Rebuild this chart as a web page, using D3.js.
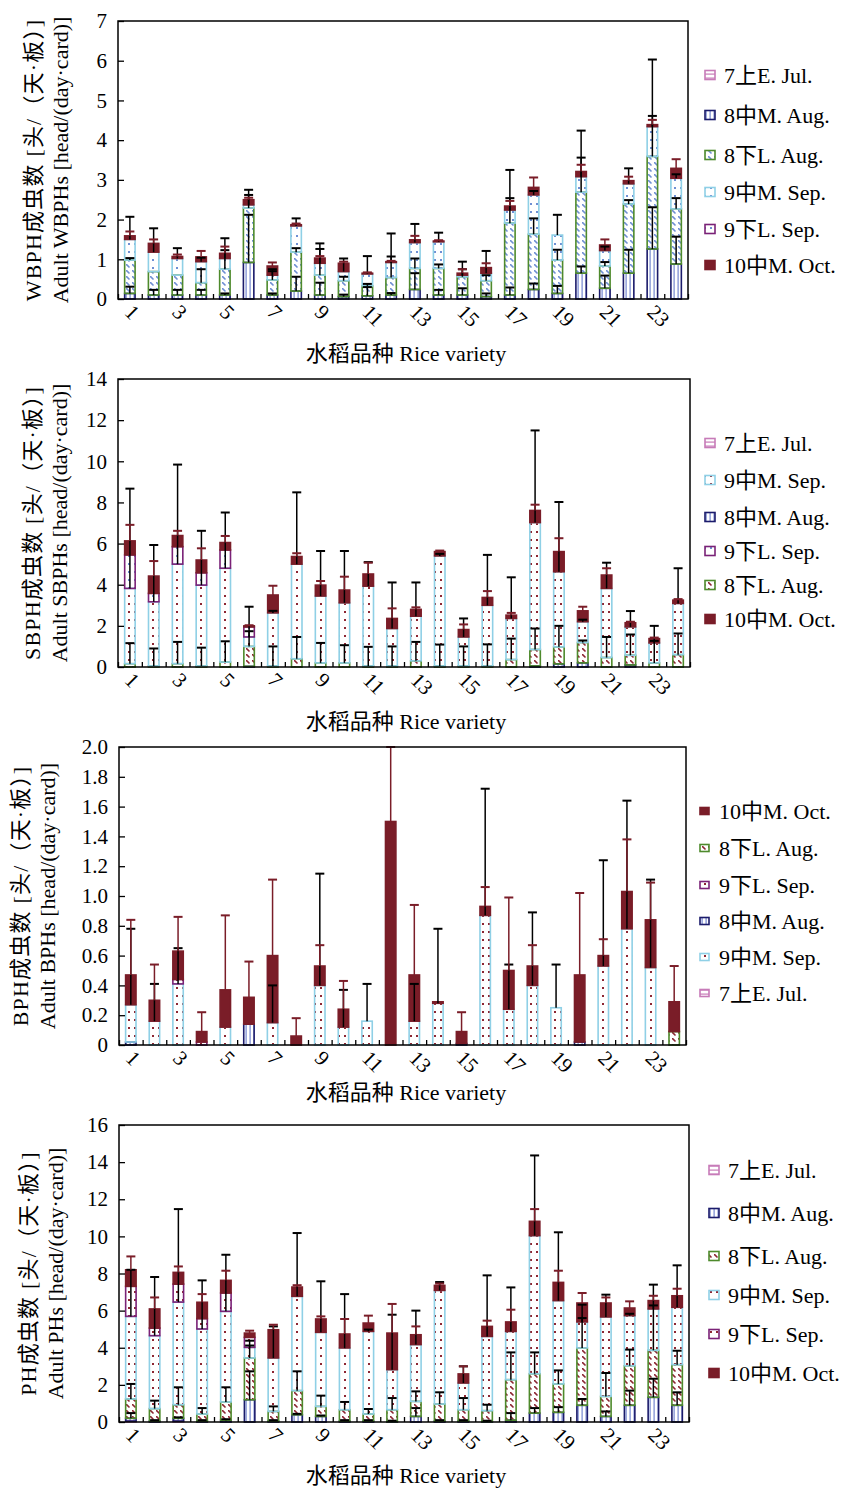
<!DOCTYPE html>
<html>
<head>
<meta charset="utf-8">
<script src="https://cdn.jsdelivr.net/npm/d3@7"></script>
<style>
  body { margin: 0; background: #fff; }
  text { font-family: "Liberation Serif", "Noto Sans CJK SC", serif; fill: #000; }
</style>
</head>
<body>
<svg id="chart" width="853" height="1490"></svg>
<script>
// ---- data -------------------------------------------------------------
const varieties = d3.range(1, 25);
const tickLabels = [1, 3, 5, 7, 9, 11, 13, 15, 17, 19, 21, 23];
const keys = ["JulE", "AugM", "AugL", "SepM", "SepL", "OctM"];
const seriesNames = {
  JulE: "7上E. Jul.", AugM: "8中M. Aug.", AugL: "8下L. Aug.",
  SepM: "9中M. Sep.", SepL: "9下L. Sep.", OctM: "10中M. Oct."
};

// WBPH
const wbphJulE = d3.range(24).map(() => 0);
const wbphAugM = [0.14,0.10,0.10,0.10,0.10,0.92,0.10,0.20,0.10,0.06,0.08,0.10,0.24,0.10,0.10,0.06,0.10,0.24,0.14,0.65,0.27,0.65,1.26,0.88];
const wbphAugL = [0.84,0.59,0.50,0.31,0.65,1.37,0.38,0.98,0.50,0.40,0.25,0.44,0.53,0.67,0.46,0.40,1.81,1.39,0.84,2.04,0.56,1.74,2.33,1.39];
const wbphSepM = [0.52,0.49,0.42,0.53,0.27,0.08,0.12,0.66,0.30,0.23,0.30,0.38,0.65,0.67,0.04,0.19,0.33,0.99,0.63,0.39,0.39,0.51,0.75,0.77];
const wbphSepL = d3.range(24).map(() => 0);
const wbphOctM = [0.09,0.22,0.05,0.12,0.13,0.13,0.23,0.03,0.13,0.21,0.02,0.02,0.07,0.02,0.05,0.14,0.10,0.19,0.00,0.13,0.14,0.08,0.05,0.25];
const wbphAugMErr = [0.17,0.13,0.13,0.13,0.04,1.20,0.04,0.36,0.31,0.05,0.22,0.05,0.41,0.13,0.17,0.08,0.19,0.15,0.19,0.17,0.32,0.59,1.05,0.69];
const wbphAugLErr = [0.05,0.00,0.00,0.34,0.48,0.33,0.27,0.10,0.66,0.10,0.05,0.53,0.25,0.10,0.19,0.14,0.63,0.40,0.26,0.87,0.10,0.10,1.02,0.27];
const wbphSepMErr = [0.57,0.60,0.26,0.10,0.51,0.38,0.10,0.19,0.50,0.33,0.45,0.73,0.47,0.23,0.34,0.56,1.01,0.10,0.51,1.16,0.10,0.39,1.69,0.10];
const wbphOctMErr = [0.11,0.10,0.05,0.15,0.17,0.05,0.09,0.03,0.05,0.04,0.02,0.02,0.10,0.02,0.10,0.11,0.13,0.25,0.00,0.17,0.14,0.10,0.12,0.23];

// SBPH
const sbphJulE = d3.range(24).map(() => 0);
const sbphAugM = [0,0,0,0,0,0.03,0,0,0,0,0,0,0,0,0,0,0,0.05,0.15,0.20,0,0.10,0,0];
const sbphAugL = [0.16,0.05,0.16,0.05,0.24,0.97,0.05,0.40,0.20,0.20,0.05,0.05,0.30,0.05,0.05,0.05,0.36,0.80,0.83,0.99,0.46,0.47,0.20,0.60];
const sbphSepM = [3.66,3.12,4.84,3.93,4.56,0.46,2.58,4.60,3.25,2.92,3.88,1.82,2.17,5.35,1.41,2.95,2.00,6.17,3.65,1.01,3.36,1.38,0.97,2.49];
const sbphSepL = [1.63,0.41,0.85,0.60,0.89,0.49,0,0,0,0,0,0,0,0,0,0,0,0,0,0,0,0,0,0];
const sbphOctM = [0.68,0.84,0.54,0.62,0.36,0.05,0.87,0.37,0.53,0.62,0.59,0.49,0.33,0.21,0.36,0.38,0.16,0.59,0.98,0.53,0.65,0.20,0.21,0.16];
const sbphAugMErr = d3.range(24).map(() => 0);
const sbphAugLErr = [1.00,0.85,1.06,0.89,1.01,0.74,0.95,1.06,0.97,0.86,0.93,0.95,0.92,1.04,0.95,1.05,1.02,1.02,1.02,0.10,1.00,1.01,1.80,1.03];
const sbphSepMErr = [4.85,2.76,4.84,2.64,2.71,1.47,0.10,3.49,2.19,2.52,1.17,2.24,1.64,0.10,0.90,2.45,2.00,4.48,3.39,0.10,1.25,0.77,0.10,1.71];
const sbphOctMErr = [0.78,0.73,0.23,0.57,0.32,0.03,0.45,0.16,0.20,0.65,0.55,0.49,0.10,0.05,0.25,0.31,0.11,0.28,0.65,0.20,0.33,0.05,0.05,0.05];

// BPH
const bphJulE = d3.range(24).map(() => 0);
const bphAugM = [0.02,0,0,0,0,0.14,0,0,0,0,0,0,0,0,0.01,0,0,0,0,0.02,0,0,0,0];
const bphAugL = [0,0,0,0,0,0,0,0,0,0,0,0,0,0,0,0,0,0,0,0,0,0,0,0.09];
const bphSepM = [0.25,0.16,0.41,0,0.12,0,0.15,0,0.40,0.12,0.16,0,0.16,0.28,0,0.87,0.24,0.40,0.25,0,0.53,0.78,0.52,0];
const bphSepL = [0,0,0.03,0.02,0,0,0,0,0,0,0,0,0,0,0,0,0,0,0,0,0,0,0,0];
const bphOctM = [0.20,0.14,0.19,0.07,0.25,0.18,0.45,0.06,0.13,0.12,0,1.50,0.31,0.01,0.08,0.06,0.26,0.13,0,0.45,0.07,0.25,0.32,0.20];
const bphAugMErr = d3.range(24).map(() => 0);
const bphAugLErr = d3.range(24).map(() => 0);
const bphSepMErr = [0.51,0.25,0.24,0,0,0,0.25,0,0.75,0.25,0.25,0,0.25,0.50,0,0.85,0.30,0.49,0.29,0,0.71,0.86,0.59,0];
const bphOctMErr = [0.37,0.24,0.23,0.13,0.50,0.24,0.51,0.12,0.14,0.19,0,0.52,0.47,0,0.13,0.13,0.49,0.14,0,0.55,0.11,0.35,0.25,0.24];

// PH
const phJulE = [0.05,0,0.05,0,0,0,0,0,0,0,0,0,0,0,0,0,0,0,0,0,0,0,0,0];
const phAugM = [0.15,0.05,0.15,0.05,0.10,1.20,0.05,0.39,0.30,0.05,0.05,0.02,0.30,0.05,0.05,0.02,0.10,0.48,0.52,0.90,0.30,0.90,1.33,0.90];
const phAugL = [1.04,0.67,0.73,0.38,0.98,2.25,0.52,1.30,0.54,0.61,0.38,0.64,0.81,0.92,0.61,0.59,2.18,2.12,1.53,3.09,1.08,2.13,2.53,2.19];
const phSepM = [4.45,3.93,5.53,4.58,4.88,0.57,2.88,5.08,3.99,3.33,4.45,2.16,3.06,6.12,1.44,4.00,2.60,7.44,4.49,1.40,4.28,2.70,2.23,3.09];
const phSepL = [1.62,0.41,0.97,0.56,0.99,0.54,0,0,0,0,0,0,0,0,0,0,0,0,0,0,0,0,0,0];
const phOctM = [0.89,1.03,0.63,0.88,0.68,0.23,1.52,0.50,0.72,0.75,0.45,1.97,0.53,0.27,0.49,0.54,0.51,0.77,0.98,1.02,0.75,0.41,0.45,0.62];
const phAugMErr = [0.28,0.05,0.05,0.05,0.05,1.53,0.05,0.05,0.05,0.05,0.05,0.05,0.45,0.05,0.05,0.05,0.38,0.27,0.28,0.34,0.27,0.79,1.00,0.70];
const phAugLErr = [0.81,0.43,0.94,0.32,0.79,0.93,0.27,1.04,0.58,0.42,0.27,0.63,0.54,0.63,0.63,0.32,1.47,1.15,0.73,1.61,1.26,0.87,2.42,0.75];
const phSepMErr = [2.51,3.16,5.01,2.62,3.05,0.10,1.70,3.41,2.75,2.90,0.10,2.96,1.83,0.45,0.90,3.29,2.37,4.32,3.68,0.93,1.20,0.10,1.31,2.26];
const phOctMErr = [0.72,0.62,0.32,0.44,0.52,0.13,0.27,0.10,0.14,0.81,0.40,1.57,0.45,0.10,0.41,0.31,0.66,0.66,0.63,0.54,0.30,0.36,0.26,0.38];

// ---- drawing ----------------------------------------------------------
const svg = d3.select("#chart");
const defs = svg.append("defs");
const darkRed = "#7a1d28";

// patterns, one set per dot colour
function addPatterns(prefix, c) {
  const dots = defs.append("pattern").attr("id", prefix + "dots")
    .attr("patternUnits", "userSpaceOnUse").attr("width", 6).attr("height", 8);
  dots.append("rect").attr("x", 2).attr("y", 3).attr("width", 2).attr("height", 2).attr("fill", c);

  const diag = defs.append("pattern").attr("id", prefix + "diag")
    .attr("patternUnits", "userSpaceOnUse").attr("width", 6).attr("height", 6);
  diag.append("path").attr("d", "M0,0 L3.5,3.5").attr("stroke", c).attr("stroke-width", 1.6);
}
addPatterns("blue", "#6f8fd3");
addPatterns("red", "#8c2632");

const vl = defs.append("pattern").attr("id", "vlines")
  .attr("patternUnits", "userSpaceOnUse").attr("width", 4).attr("height", 4);
vl.append("rect").attr("x", 1.5).attr("y", 0).attr("width", 1.2).attr("height", 4).attr("fill", "#7386cf");

const hl = defs.append("pattern").attr("id", "hlines")
  .attr("patternUnits", "userSpaceOnUse").attr("width", 4).attr("height", 4);
hl.append("rect").attr("x", 0).attr("y", 1.5).attr("width", 4).attr("height", 1.2).attr("fill", "#c77bb8");

function styles(scheme) {
  return {
    JulE: { stroke: "#c77bb8", fill: "url(#hlines)" },
    AugM: { stroke: "#1b1b6b", fill: "url(#vlines)" },
    AugL: { stroke: "#4e8a2c", fill: `url(#${scheme.augL}diag)` },
    SepM: { stroke: "#8fd0e6", fill: `url(#${scheme.sepM}dots)` },
    SepL: { stroke: "#7a2277", fill: `url(#${scheme.sepL}dots)` },
    OctM: { stroke: darkRed, fill: darkRed }
  };
}

function drawPanel(cfg) {
  const rows = varieties.map((v, i) => {
    const r = { variety: v };
    keys.forEach(k => r[k] = cfg.values[k][i]);
    return r;
  });
  const stacked = d3.stack().keys(keys)(rows);
  const st = styles(cfg.scheme);

  const x = d3.scaleBand().domain(varieties).range([cfg.left, cfg.right]);
  const xEdge = d3.scaleLinear().domain([0, 24]).range([cfg.left, cfg.right]);
  const y = d3.scaleLinear().domain([0, cfg.ymax]).range([cfg.bottom, cfg.top]);
  const bw = x.bandwidth() * 0.44;

  const g = svg.append("g");

  // bars
  stacked.forEach(layer => {
    g.append("g").selectAll("rect")
      .data(layer.filter(d => d[1] - d[0] > 0))
      .join("rect")
      .attr("x", d => x(d.data.variety) + (x.bandwidth() - bw) / 2)
      .attr("y", d => y(d[1]))
      .attr("width", bw)
      .attr("height", d => y(d[0]) - y(d[1]))
      .attr("fill", st[layer.key].fill)
      .attr("stroke", st[layer.key].stroke)
      .attr("stroke-width", 1.6);
  });

  // error bars (plus direction), from the top of each segment
  ["AugM", "AugL", "SepM", "OctM"].forEach(k => {
    const layer = stacked.find(s => s.key === k);
    const errs = cfg.errors[k];
    const col = k === "OctM" ? darkRed : "#000";
    const eg = g.append("g").attr("stroke", col).attr("stroke-width", 1.5);
    layer.forEach((d, i) => {
      if (!(errs[i] > 0)) return;
      const cx = x(d.data.variety) + x.bandwidth() / 2;
      const y0 = y(d[1]), y1 = y(Math.min(d[1] + errs[i], cfg.ymax));
      eg.append("line").attr("x1", cx).attr("x2", cx).attr("y1", y0).attr("y2", y1);
      eg.append("line").attr("x1", cx - 4.5).attr("x2", cx + 4.5).attr("y1", y1).attr("y2", y1)
        .attr("stroke-width", 2);
    });
  });

  // frame
  g.append("rect")
    .attr("x", cfg.left).attr("y", cfg.top)
    .attr("width", cfg.right - cfg.left).attr("height", cfg.bottom - cfg.top)
    .attr("fill", "none").attr("stroke", "#000").attr("stroke-width", 1.5);

  // y axis
  const yAxis = d3.axisLeft(y).tickValues(cfg.yticks).tickSize(-6).tickPadding(11)
    .tickFormat(cfg.yfmt);
  const yg = g.append("g").attr("transform", `translate(${cfg.left},0)`).call(yAxis);
  yg.select(".domain").remove();
  yg.selectAll("line").attr("stroke", "#000").attr("stroke-width", 1.3);
  yg.selectAll("text").attr("font-size", 21)
    .style("font-family", '"Liberation Serif", serif');

  // x edge ticks
  const xt = g.append("g").attr("transform", `translate(0,${cfg.bottom})`)
    .call(d3.axisBottom(xEdge).tickValues(d3.range(0, 25)).tickSize(-5).tickFormat(""));
  xt.select(".domain").remove();
  xt.selectAll("line").attr("stroke", "#000").attr("stroke-width", 1.3);

  // x labels
  const xl = g.append("g").attr("transform", `translate(0,${cfg.bottom})`)
    .call(d3.axisBottom(x).tickValues(tickLabels).tickSize(0).tickPadding(0));
  xl.select(".domain").remove();
  xl.selectAll("text")
    .attr("font-size", 21)
    .style("font-family", '"Liberation Serif", serif')
    .attr("text-anchor", "start")
    .attr("dy", null)
    .attr("y", 0)
    .attr("transform", "translate(-3,11) rotate(45)")
    .attr("dominant-baseline", "middle");

  // x title
  g.append("text").attr("x", 406).attr("y", cfg.xTitleY)
    .attr("text-anchor", "middle").attr("dominant-baseline", "central")
    .attr("font-size", 22).text("水稻品种 Rice variety");

  // y titles
  const cy = (cfg.top + cfg.bottom) / 2;
  cfg.yTitle.forEach((t, i) => {
    g.append("text")
      .attr("transform", `translate(${cfg.yTitleX[i]},${cy}) rotate(-90)`)
      .attr("text-anchor", "middle").attr("dominant-baseline", "central")
      .attr("font-size", 22)
      .attr("letter-spacing", i === 0 ? 1.2 : 0)
      .text(t);
  });

  // legend
  const lg = g.append("g");
  cfg.legend.forEach((k, i) => {
    const ly = cfg.legendY[i];
    lg.append("rect")
      .attr("x", cfg.legendX).attr("y", ly - cfg.swH / 2)
      .attr("width", cfg.swW).attr("height", cfg.swH)
      .attr("fill", st[k].fill).attr("stroke", st[k].stroke).attr("stroke-width", 1.6);
    lg.append("text")
      .attr("x", cfg.legendX + 19).attr("y", ly)
      .attr("dominant-baseline", "central")
      .attr("font-size", 22).text(seriesNames[k]);
  });
}

const step = (a, b, s) => d3.range(a, b + s / 2, s);

drawPanel({
  top: 21, bottom: 299, left: 118, right: 688, ymax: 7,
  yticks: step(0, 7, 1), yfmt: d3.format("d"),
  values: { JulE: wbphJulE, AugM: wbphAugM, AugL: wbphAugL, SepM: wbphSepM, SepL: wbphSepL, OctM: wbphOctM },
  errors: { AugM: wbphAugMErr, AugL: wbphAugLErr, SepM: wbphSepMErr, OctM: wbphOctMErr },
  scheme: { augL: "blue", sepM: "blue", sepL: "blue" },
  xTitleY: 353,
  yTitle: ["WBPH成虫数 [头/（天·板）]", "Adult WBPHs [head/(day·card)]"], yTitleX: [33, 60],
  legend: ["JulE", "AugM", "AugL", "SepM", "SepL", "OctM"],
  legendY: [75, 115, 155, 192, 229, 265], legendX: 705, swW: 10, swH: 9
});

drawPanel({
  top: 379, bottom: 667, left: 118, right: 690, ymax: 14,
  yticks: step(0, 14, 2), yfmt: d3.format("d"),
  values: { JulE: sbphJulE, AugM: sbphAugM, AugL: sbphAugL, SepM: sbphSepM, SepL: sbphSepL, OctM: sbphOctM },
  errors: { AugM: sbphAugMErr, AugL: sbphAugLErr, SepM: sbphSepMErr, OctM: sbphOctMErr },
  scheme: { augL: "red", sepM: "red", sepL: "blue" },
  xTitleY: 721,
  yTitle: ["SBPH成虫数 [头/（天·板）]", "Adult SBPHs [head/(day·card)]"], yTitleX: [32, 59],
  legend: ["JulE", "SepM", "AugM", "SepL", "AugL", "OctM"],
  legendY: [443, 480, 517, 551, 585, 619], legendX: 705, swW: 10, swH: 9
});

drawPanel({
  top: 747, bottom: 1045, left: 119, right: 686, ymax: 2,
  yticks: step(0, 2, 0.2), yfmt: d => d === 0 ? "0" : d3.format(".1f")(d),
  values: { JulE: bphJulE, AugM: bphAugM, AugL: bphAugL, SepM: bphSepM, SepL: bphSepL, OctM: bphOctM },
  errors: { AugM: bphAugMErr, AugL: bphAugLErr, SepM: bphSepMErr, OctM: bphOctMErr },
  scheme: { augL: "red", sepM: "red", sepL: "red" },
  xTitleY: 1092,
  yTitle: ["BPH成虫数 [头/（天·板）]", "Adult BPHs [head/(day·card)]"], yTitleX: [20, 47],
  legend: ["OctM", "AugL", "SepL", "AugM", "SepM", "JulE"],
  legendY: [811, 848, 885, 921, 957, 993], legendX: 700, swW: 9, swH: 7
});

drawPanel({
  top: 1125, bottom: 1422, left: 119, right: 689, ymax: 16,
  yticks: step(0, 16, 2), yfmt: d3.format("d"),
  values: { JulE: phJulE, AugM: phAugM, AugL: phAugL, SepM: phSepM, SepL: phSepL, OctM: phOctM },
  errors: { AugM: phAugMErr, AugL: phAugLErr, SepM: phSepMErr, OctM: phOctMErr },
  scheme: { augL: "red", sepM: "red", sepL: "red" },
  xTitleY: 1475,
  yTitle: ["PH成虫数 [头/（天·板）]", "Adult PHs [head/(day·card)]"], yTitleX: [28, 55],
  legend: ["JulE", "AugM", "AugL", "SepM", "SepL", "OctM"],
  legendY: [1170, 1213, 1256, 1295, 1334, 1373], legendX: 709, swW: 10, swH: 9
});
</script>
</body>
</html>
